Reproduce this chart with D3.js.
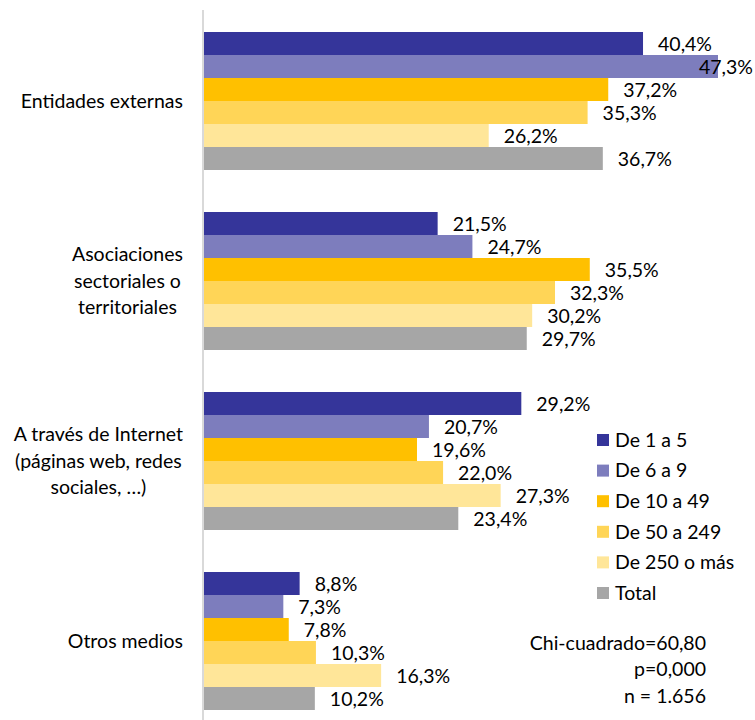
<!DOCTYPE html>
<html>
<head>
<meta charset="utf-8">
<script src="https://cdn.jsdelivr.net/npm/d3@7"></script>
<style>
  body { margin: 0; background: #fff; }
  text { font-family: Lato, "Open Sans", sans-serif; fill: #000; }
</style>
</head>
<body>
<div id="chart"></div>
<script>
// categories (lines of each axis label)
const categories = [
    ["Entidades externas"],
    ["Asociaciones", "sectoriales o", "territoriales"],
    ["A través de Internet", "(páginas web, redes", "sociales, …)"],
    ["Otros medios"]
];
const series = ["De 1 a 5", "De 6 a 9", "De 10 a 49", "De 50 a 249", "De 250 o más", "Total"];
const colors = ["#35359a", "#7d7dbd", "#ffc000", "#ffd557", "#ffe699", "#a6a6a6"];

// values per series, one per category
const values = [
    [40.4, 21.5, 29.2, 8.8],
    [47.3, 24.7, 20.7, 7.3],
    [37.2, 35.5, 19.6, 7.8],
    [35.3, 32.3, 22.0, 10.3],
    [26.2, 30.2, 27.3, 16.3],
    [36.7, 29.7, 23.4, 10.2]
];
const statLines = ["Chi-cuadrado=60,80", "p=0,000", "n = 1.656"];

const width = 755, height = 720;
const x0 = 204;
const fs = 19.5;
const fmt = v => v.toFixed(1).replace(".", ",") + "%";

const svg = d3.select("#chart").append("svg")
    .attr("width", width)
    .attr("height", height);

const xScale = d3.scaleLinear().domain([0, 47.3]).range([x0, 718]);
const yScale = d3.scaleBand()
    .domain(d3.range(categories.length))
    .range([11, 731])
    .paddingInner(42 / 180)
    .paddingOuter(21 / 180);
const ySub = d3.scaleBand()
    .domain(d3.range(series.length))
    .range([0, yScale.bandwidth()]);

const data = [];
categories.forEach((c, ci) => {
    series.forEach((s, si) => {
        data.push({ ci: ci, si: si, v: values[si][ci] });
    });
});

svg.selectAll("rect.bar")
    .data(data)
    .enter()
    .append("rect")
    .attr("class", "bar")
    .attr("x", x0)
    .attr("y", d => yScale(d.ci) + ySub(d.si))
    .attr("width", d => xScale(d.v) - x0)
    .attr("height", ySub.bandwidth())
    .attr("fill", d => colors[d.si]);

// axis line
svg.append("line")
    .attr("x1", 203).attr("x2", 203)
    .attr("y1", 10).attr("y2", height)
    .attr("stroke", "#d9d9d9")
    .attr("stroke-width", 2);

// value labels
svg.selectAll("text.val")
    .data(data)
    .enter()
    .append("text")
    .attr("class", "val")
    .attr("font-size", fs)
    .attr("dy", "0.35em")
    .attr("y", d => yScale(d.ci) + ySub(d.si) + ySub.bandwidth() / 2 + 1)
    .text(d => fmt(d.v))
    .attr("x", function(d) {
        const w = this.getComputedTextLength();
        return Math.min(xScale(d.v) + 15, 753 - w);
    });

// category labels: centred lines, block right aligned
const lineH = 26.5;
categories.forEach((lines, ci) => {
    const g = svg.append("g");
    const texts = lines.map((l, li) => g.append("text")
        .attr("font-size", fs)
        .attr("text-anchor", "middle")
        .attr("dy", "0.35em")
        .attr("y", yScale(ci) + yScale.bandwidth() / 2 + (li - (lines.length - 1) / 2) * lineH)
        .text(l));
    const maxW = d3.max(texts, t => t.node().getComputedTextLength());
    texts.forEach(t => t.attr("x", 183 - maxW / 2));
});

// legend
const legend = svg.append("g");
series.forEach((s, i) => {
    const y = 440 + i * 30.6;
    legend.append("rect")
        .attr("x", 597).attr("y", y - 6)
        .attr("width", 12).attr("height", 12)
        .attr("fill", colors[i]);
    legend.append("text")
        .attr("x", 615).attr("y", y)
        .attr("dy", "0.35em")
        .attr("font-size", fs)
        .text(s);
});

// stats
statLines.forEach((l, i) => {
    svg.append("text")
        .attr("x", 706)
        .attr("y", 643 + i * 26.5)
        .attr("dy", "0.35em")
        .attr("text-anchor", "end")
        .attr("font-size", fs)
        .text(l);
});
</script>
</body>
</html>
